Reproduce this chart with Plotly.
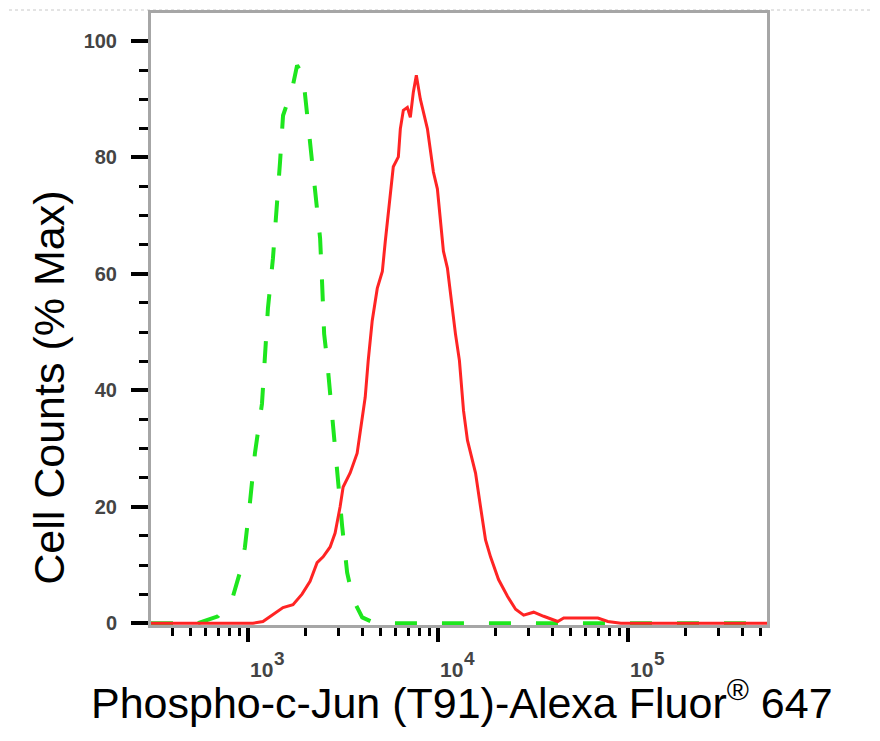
import math
import plotly.graph_objects as go

# control (isotype) histogram - dashed green
ctrl_x = [309, 545, 695, 834, 907, 964, 1025, 1089, 1186, 1229, 1275, 1355, 1423, 1476,
          1531, 1708, 1815, 1951, 2000, 2124, 2258, 2399, 2459, 2519, 2613, 2810, 2986,
          3135, 3329, 3579, 3996, 4677, 540000]
ctrl_y = [0, 0, 1.2, 4.6, 8.7, 13.0, 20.7, 29.2, 37.7, 45.4, 54.1, 62.7, 71.2, 79.2,
          87.2, 91.7, 95.8, 94.2, 90.7, 82.6, 74.6, 66.1, 58.2, 49.7, 45.1, 33.1, 24.6,
          16.6, 8.7, 4.1, 1.0, 0, 0]

# stained sample histogram - red
samp_x = [309, 964, 1063, 1200, 1355, 1530, 1727, 1927, 2124, 2313, 2488, 2709, 2877,
          3057, 3171, 3452, 3758, 3996, 4143, 4297, 4509, 4795, 5099, 5285, 5617, 5823,
          6192, 6342, 6577, 6904, 7159, 7424, 7700, 8083, 8806, 9468, 9936, 10306, 10690,
          11220, 11640, 12370, 12980, 13640, 14310, 15210, 15780, 16760, 17810, 18920,
          20850, 23270, 25640, 28260, 31910, 36030, 42720, 45940, 54470, 69490, 78400,
          91800, 540000]
samp_y = [0, 0, 0, 0.3, 1.5, 2.7, 3.2, 5.0, 7.2, 10.4, 11.4, 13.1, 15.5,
          20.0, 23.4, 25.8, 29.2, 34.8, 38.8, 45.1, 51.9, 57.5, 60.4, 65.6, 74.1, 78.4,
          80.1, 84.9, 88.1, 88.6, 86.9, 91.2, 94.1, 90.0, 84.9, 77.5, 74.6, 69.5, 63.9,
          61.0, 56.5, 49.7, 45.1, 36.5, 31.4, 28.0, 25.8, 20.0, 14.3, 11.4,
          7.5, 4.6, 2.4, 1.4, 1.9, 1.2, 0.3, 0.9, 0.9, 0.9, 0.3,
          0, 0]

x_major = [1e3, 1e4, 1e5]
x_major_base = ["10", "10", "10"]
x_major_exp = ["3", "4", "5"]
x_minor = [m * 10 ** p for p in (2, 3, 4, 5) for m in range(2, 10)]
x_minor = [v for v in x_minor if 309 < v < 540000]
y_major = [0, 20, 40, 60, 80, 100]
y_minor = [v for v in range(5, 101, 5) if v % 20]

font = "Arial, Liberation Sans, sans-serif"
tick_font = dict(family=font, size=21, color="#444", weight="bold")

fig = go.Figure()
fig.add_trace(go.Scatter(x=ctrl_x, y=ctrl_y, mode="lines",
                         line=dict(color="#1ee61e", width=4, dash="22px,25px"),
                         showlegend=False))
fig.add_trace(go.Scatter(x=samp_x, y=samp_y, mode="lines",
                         line=dict(color="#ff2424", width=3),
                         showlegend=False))

# page body has an 8px margin, so the margins are shifted to compensate
fig.update_layout(
    width=880, height=741,
    margin=dict(l=143, r=121, t=2, b=124),
    paper_bgcolor="white", plot_bgcolor="white",
    font=dict(family=font),
)
fig.update_xaxes(
    type="log", range=[2.49, 5.732],
    showgrid=False, zeroline=False,
    showline=True, linecolor="#a6a6a6", linewidth=3, mirror=True,
    tickmode="array", tickvals=x_major, ticktext=["", "", ""],
    ticks="outside", ticklen=14, tickwidth=3.5, tickcolor="black",
    minor=dict(tickmode="array", tickvals=x_minor, ticks="outside",
               ticklen=8, tickwidth=2.5, tickcolor="black", showgrid=False),
)
fig.update_yaxes(
    range=[-0.3, 104.8],
    showgrid=False, zeroline=False,
    showline=True, linecolor="#a6a6a6", linewidth=3, mirror=True,
    tickmode="array", tickvals=y_major,
    ticks="outside", ticklen=17, tickwidth=4, tickcolor="black",
    ticklabelstandoff=10,
    tickfont=dict(size=20, color="#444", weight="bold"),
    minor=dict(tickmode="array", tickvals=y_minor, ticks="outside",
               ticklen=9, tickwidth=2.5, tickcolor="black", showgrid=False),
)

# x tick labels drawn as base + raised exponent (exponent nearly full size)
for v, b, e in zip(x_major, x_major_base, x_major_exp):
    fig.add_annotation(text=b, x=math.log10(v), xref="x", yref="paper",
                       y=-0.073, xanchor="left", yanchor="middle", xshift=0,
                       showarrow=False, font=tick_font)
    fig.add_annotation(text=e, x=math.log10(v), xref="x", yref="paper",
                       y=-0.055, xanchor="left", yanchor="middle", xshift=24,
                       showarrow=False, font=dict(tick_font, size=19))

fig.add_annotation(text="Phospho-c-Jun (T91)-Alexa Fluor<sup>®</sup> 647",
                   xref="paper", yref="paper", x=0.505, y=-0.122,
                   xanchor="center", yanchor="middle", showarrow=False,
                   font=dict(family=font, size=43, color="black"))
fig.add_annotation(text="Cell Counts (% Max)", textangle=-90,
                   xref="paper", yref="y", x=-0.165, y=40.5,
                   xanchor="center", yanchor="middle", showarrow=False,
                   font=dict(family=font, size=43, color="black"))

# faint dashed guide line across the top of the image
fig.add_shape(type="line", xref="paper", yref="paper",
              x0=-0.25, x1=1.19, y0=1.0049, y1=1.0049,
              line=dict(color="#c8c8c8", width=1, dash="dot"), layer="below")

fig.write_html("out.html")
